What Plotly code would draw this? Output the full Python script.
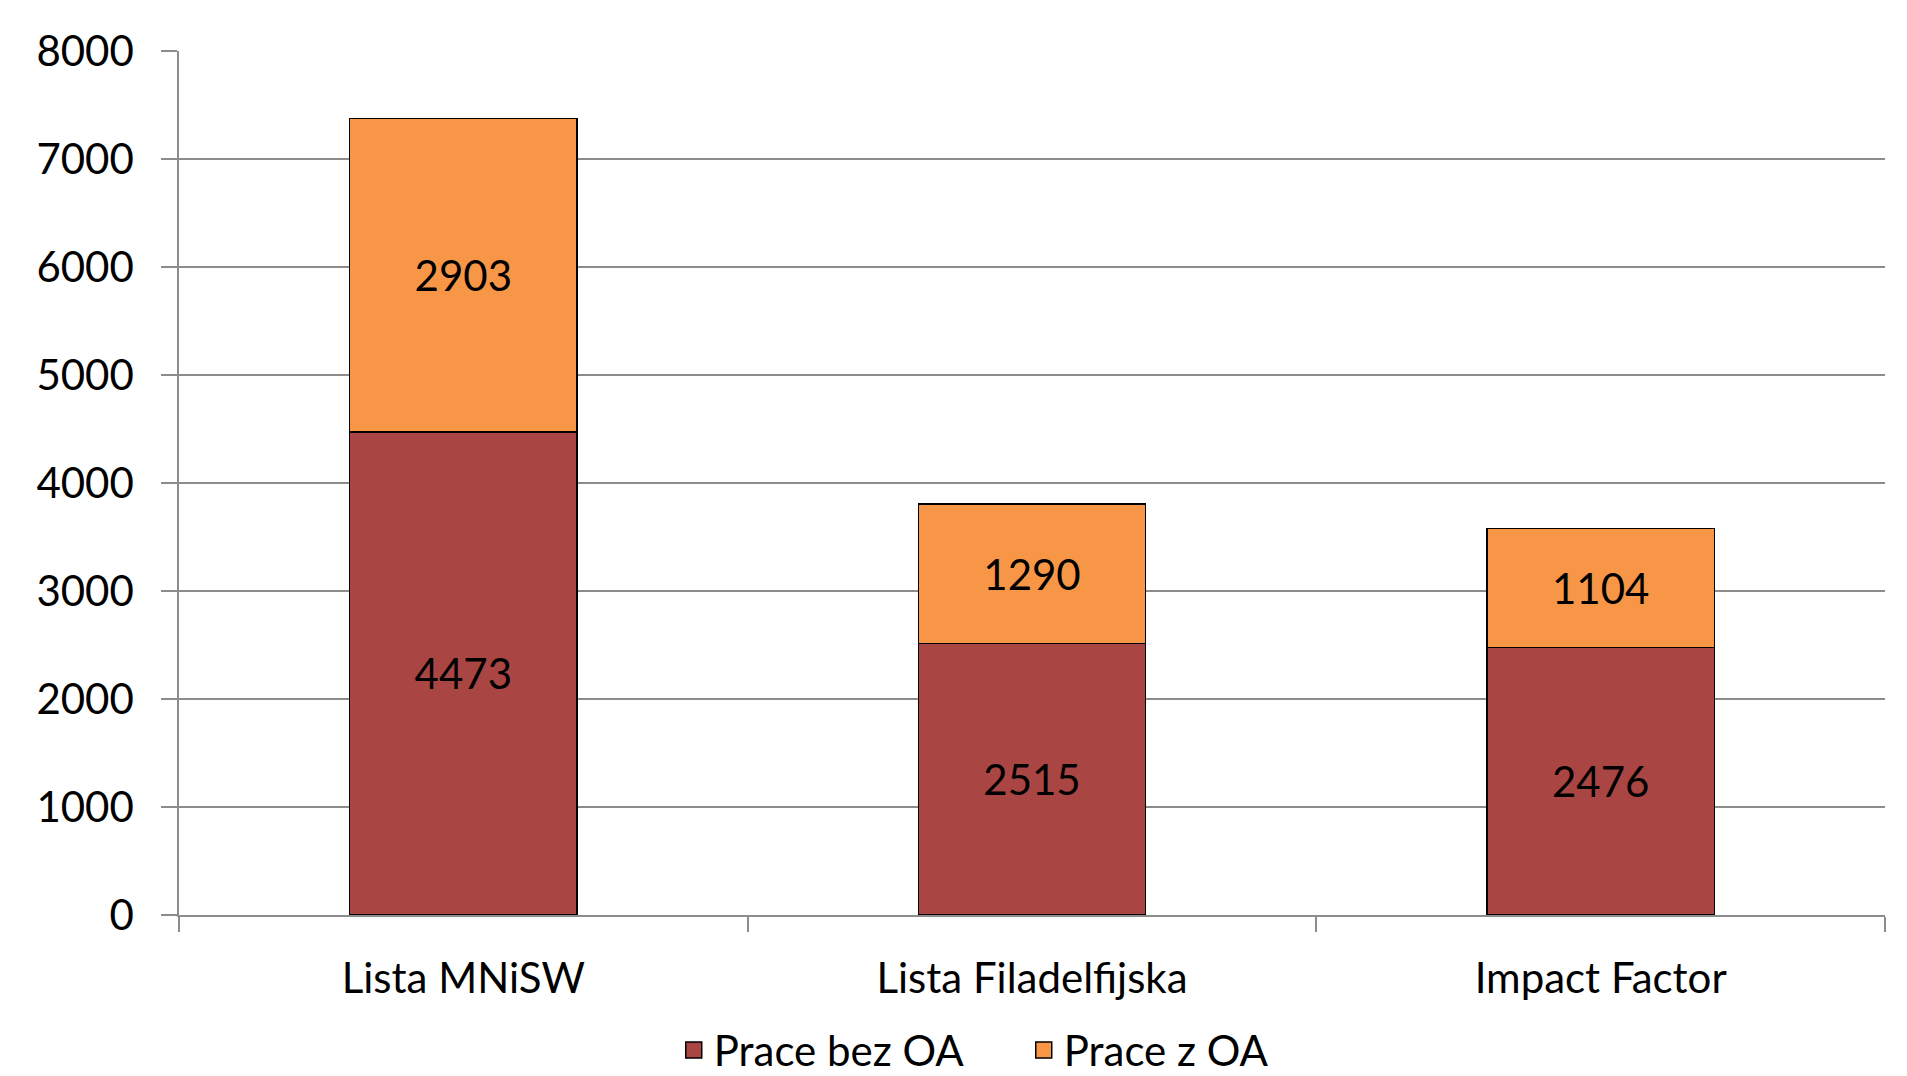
import plotly.graph_objects as go

categories = ["Lista MNiSW", "Lista Filadelfijska", "Impact Factor"]
bez_oa = [4473, 2515, 2476]
z_oa = [2903, 1290, 1104]
y_ticks = [0, 1000, 2000, 3000, 4000, 5000, 6000, 7000, 8000]
series_names = ["Prace bez OA", "Prace z OA"]
series_colors = ["#A94643", "#F79646"]

FONT = "Lato, Open Sans, sans-serif"
fig = go.Figure()
for name, vals, col in zip(series_names, [bez_oa, z_oa], series_colors):
    fig.add_bar(x=categories, y=vals, name=name, showlegend=False,
                marker=dict(color=col, line=dict(color="black", width=1.5)),
                text=vals, textposition="inside", insidetextanchor="middle",
                textfont=dict(color="black", size=42, family=FONT))
for name, col in zip(series_names, series_colors):
    fig.add_scatter(x=[None], y=[None], mode="markers", name=name,
                    marker=dict(symbol="square", size=16, color=col,
                                line=dict(color="black", width=1.5)))

fig.update_layout(
    barmode="stack", bargap=0.6,
    width=1907, height=1076,
    margin=dict(l=179, r=22, t=51, b=161, autoexpand=False),
    paper_bgcolor="white", plot_bgcolor="white",
    font=dict(family=FONT, size=42, color="black"),
    uniformtext=dict(mode="show", minsize=42),
    legend=dict(orientation="h", x=0.29, xanchor="left",
                yref="container", y=0.024, yanchor="middle",
                font=dict(size=42), traceorder="normal", itemsizing="trace",
                entrywidth=305),
    showlegend=True,
)
fig.update_yaxes(range=[0, 8000], tickvals=y_ticks, showgrid=True, gridcolor="#8c8c8c", gridwidth=1.5,
                 ticks="outside", ticklen=16, tickcolor="#8c8c8c", tickwidth=1.5,
                 showline=True, linecolor="#8c8c8c", linewidth=1.5, zeroline=False,
                 ticklabelstandoff=19, tickfont=dict(size=42))
fig.update_xaxes(tickson="boundaries", ticks="outside", ticklen=15, tickcolor="#8c8c8c", tickwidth=1.5,
                 showline=True, linecolor="#8c8c8c", linewidth=1.5, tickfont=dict(size=42),
                 ticklabelstandoff=26)

fig.write_html("out.html", config={"displayModeBar": False})
with open("out.html", encoding="utf-8") as f:
    html = f.read()
html = html.replace("<body>", '<body style="margin:0;overflow:hidden">', 1)
with open("out.html", "w", encoding="utf-8") as f:
    f.write(html)
